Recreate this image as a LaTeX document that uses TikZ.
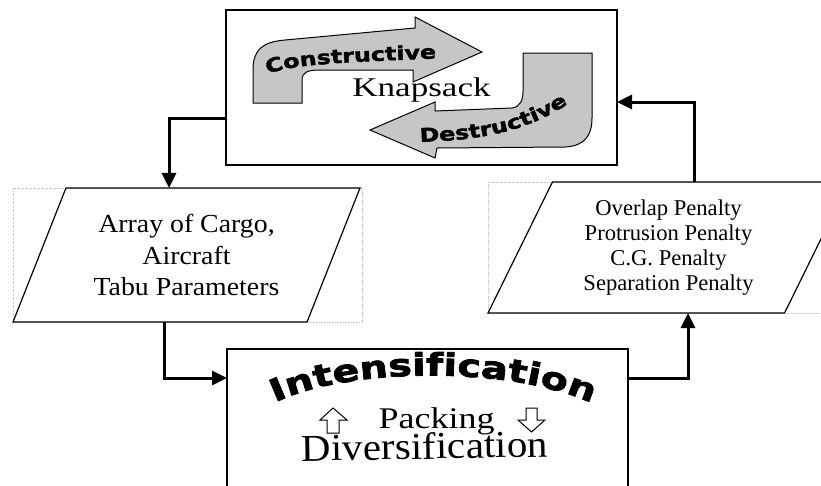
\documentclass[tikz,border=0pt]{standalone}
\usepackage{fontspec}
\setmainfont{Liberation Serif}
\newfontfamily\knapfont{Liberation Serif}[FakeStretch=1.3]
\newfontfamily\packfont{Liberation Serif}[FakeStretch=1.2]
\newfontfamily\cargofont{Liberation Serif}[FakeStretch=1.07]
\newfontfamily\diverfont{Liberation Serif}[FakeStretch=1.08]
\newfontfamily\bandfont{DejaVu Sans}[FakeStretch=1.25, FakeBold=2]
\newfontfamily\intfont{DejaVu Sans}[FakeStretch=1.28, FakeBold=2.5]
\usetikzlibrary{shapes.geometric, arrows.meta, decorations.text}

\begin{document}
\begin{tikzpicture}[x=1pt, y=-1pt, thick,
	box/.style = {draw, line width=1.8pt, inner sep=0pt, outer sep=0pt},
	para/.style = {draw, trapezium, trapezium stretches body, line width=1.2pt, inner sep=0pt, outer sep=0pt, align=center},
	flow/.style = {line width=3pt, -{Triangle[length=15pt, width=14pt]}},
	band/.style = {fill=gray!45, draw=black, line width=1pt},
	scan/.style = {draw=gray!45, densely dotted, line width=0.6pt}]
			\useasboundingbox (0,0) rectangle (821,485);
			
			\draw[scan] (13,188) rectangle (362,322);
			\draw[scan] (488,182) rectangle (830,313);
			
			\node[box, minimum width=391, minimum height=155, text depth=0pt, font=\knapfont\fontsize{27}{27}\selectfont] (knap) at (421.5,87.5) {Knapsack};
			\node[para, trapezium left angle=57, trapezium right angle=123, minimum width=347, minimum height=134, font=\cargofont\fontsize{26}{31.5}\selectfont] (cargo) at (186.5,255) {Array of Cargo,\\Aircraft\\Tabu Parameters};
			\node[para, trapezium left angle=56, trapezium right angle=124, minimum width=361, minimum height=131, font=\fontsize{22.6}{25}\selectfont] (pen) at (668.5,247.5) {Overlap Penalty\\Protrusion Penalty\\C.G. Penalty\\Separation Penalty};
			\node[box, minimum width=401, minimum height=160] (pack) at (427.5,429) {};
			
			% curled arrows in the knapsack box
			\draw[band] (253,103) -- (253,70) .. controls (253,50) and (262,42) .. (285,40) -- (415,28) -- (415,17) -- (482,52) -- (413,82) -- (413,70) -- (320,70) .. controls (308,70) and (302,72) .. (302,80) -- (302,103) -- cycle;
			\draw[band] (370,130) -- (435,102) -- (435,111) -- (512,108) .. controls (520,107) and (523,100) .. (523,92) -- (523,53) -- (592,53) -- (592,118) .. controls (592,135) and (585,146) .. (565,147) -- (437,148) -- (435,158) -- cycle;
			\path[decorate, decoration={text along path, text align=center, text={|\bandfont\bfseries\fontsize{19}{19}\selectfont|Constructive}}] (258,79) .. controls (280,65) and (320,63) .. (447,58);
			\path[decorate, decoration={text along path, text align=center, text={|\bandfont\bfseries\fontsize{19}{19}\selectfont|Destructive}}] (415,142) .. controls (480,141) and (530,131) .. (572,101);
			
			% packing box
			\path[decorate, decoration={text along path, text align=center, text={|\intfont\bfseries\fontsize{31}{31}\selectfont|Intensification}}] (253,416) .. controls (320,362) and (540,362) .. (614,416);
			\node[anchor=base, inner sep=0pt, font=\packfont\fontsize{30}{30}\selectfont] (packlbl) at (436.5,428) {Packing};
			\node[anchor=base, inner sep=0pt, rotate=1, font=\diverfont\fontsize{38}{38}\selectfont] (diver) at (425,459) {Diversification};
			\draw[line width=1pt, fill=white] (333,408) -- (347,420) -- (339,420) -- (339,433) -- (327,433) -- (327,420) -- (320,420) -- cycle;
			\draw[line width=1pt, fill=white] (526,408) -- (537,408) -- (537,420) -- (545,420) -- (531.5,432) -- (518,420) -- (526,420) -- cycle;
			
			\draw[flow] ([yshift=-30.5pt]knap.west) -| ([xshift=-17.5pt]cargo.north);
			\draw[flow] ([xshift=-22.5pt]cargo.south) |- ([yshift=51pt]pack.west);
			\draw[flow] ([yshift=51pt]pack.east) -| ([xshift=19.5pt]pen.south);
			\draw[flow] ([xshift=25.5pt]pen.north) |- ([yshift=-14.5pt]knap.east);
		\end{tikzpicture}
\end{document}
